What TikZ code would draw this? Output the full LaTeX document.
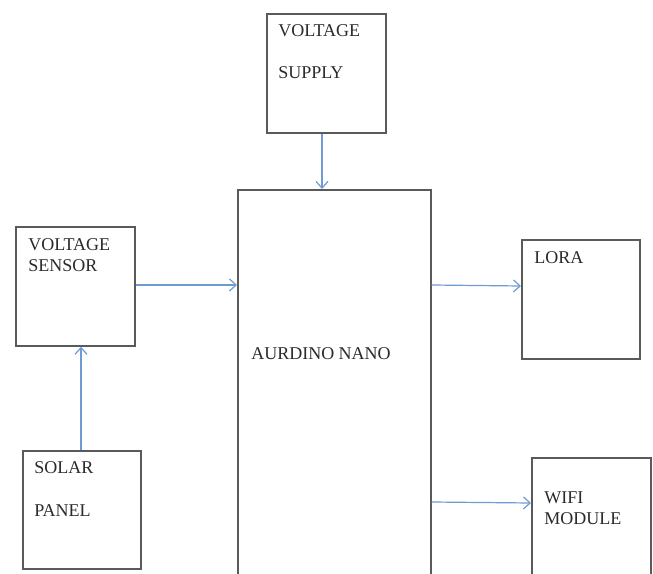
\documentclass[tikz,border=0pt]{standalone}
\usepackage{fontspec}
\setmainfont{Liberation Serif}
\usetikzlibrary{arrows.meta}
\definecolor{boxline}{HTML}{5A5A5A}
\definecolor{txt}{HTML}{2A2A2A}
\definecolor{arr}{HTML}{6F9BD3}
\tikzset{
  blockbox/.style={draw=boxline, line width=1.3pt, fill=none},
  lbl/.style={anchor=base west, inner sep=0pt, text=txt, font=\fontsize{13.5}{15}\selectfont},
  conn/.style={draw=arr, line width=0.9pt, -{Straight Barb[length=5pt,width=9pt]}},
  x=0.75pt, y=-0.75pt
}
\begin{document}
\begin{tikzpicture}
\useasboundingbox (0,0) rectangle (653,574);
\clip (0,0) rectangle (653,574);
% boxes
\node[blockbox, minimum width=119*0.75pt, minimum height=119*0.75pt, anchor=north west, inner sep=0pt] (supply) at (266,13) {};
\node[blockbox, minimum width=119*0.75pt, minimum height=119*0.75pt, anchor=north west, inner sep=0pt] (sensor) at (15,226) {};
\node[blockbox, minimum width=118*0.75pt, minimum height=118*0.75pt, anchor=north west, inner sep=0pt] (solar) at (22,450) {};
\node[blockbox, minimum width=118*0.75pt, minimum height=119*0.75pt, anchor=north west, inner sep=0pt] (lora) at (521,239) {};
\node[blockbox, minimum width=193*0.75pt, minimum height=400*0.75pt, anchor=north west, inner sep=0pt] (nano) at (237,189) {};
\node[blockbox, minimum width=119*0.75pt, minimum height=140*0.75pt, anchor=north west, inner sep=0pt] (wifi) at (531,457) {};
% labels
\node[lbl] (t1) at (278,37) {VOLTAGE};
\node[lbl] (t2) at (278,79) {SUPPLY};
\node[lbl] (t3) at (28,250) {VOLTAGE};
\node[lbl] (t4) at (28,271) {SENSOR};
\node[lbl] (t5) at (34,473) {SOLAR};
\node[lbl] (t6) at (34,516) {PANEL};
\node[lbl] (t7) at (534,263) {LORA};
\node[lbl] (t8) at (544,503) {WIFI};
\node[lbl] (t9) at (544,524) {MODULE};
\node[lbl] (t10) at (251,359) {AURDINO NANO};
% connectors
\draw[conn] (supply.south -| 322,0) -- (nano.north -| 322,0);
\draw[conn] (sensor.east |- 0,285) -- (nano.west |- 0,285);
\draw[conn] (solar.north -| 81,0) -- (sensor.south -| 81,0);
\draw[conn] (nano.east |- 0,285) -- (lora.west |- 0,286);
\draw[conn] (nano.east |- 0,502) -- (wifi.west |- 0,503);
\end{tikzpicture}
\end{document}
